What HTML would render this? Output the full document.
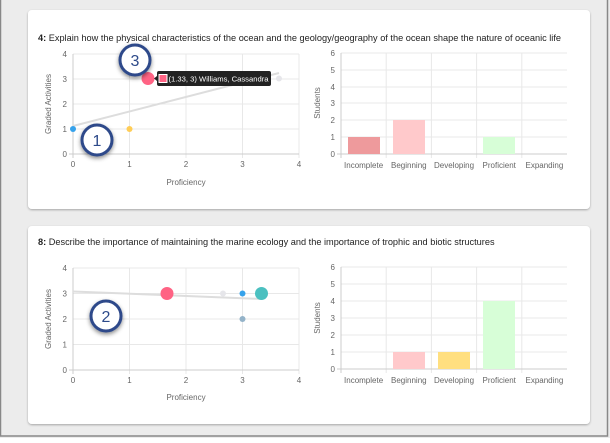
<!DOCTYPE html>
<html><head><meta charset="utf-8"><style>
body{margin:0;width:610px;height:438px;overflow:hidden;background:#fff;font-family:"Liberation Sans",sans-serif}
</style></head><body>
<svg width="610" height="438" xmlns="http://www.w3.org/2000/svg" font-family="Liberation Sans, sans-serif">
<defs><filter id="sh" x="-50%" y="-50%" width="200%" height="200%"><feDropShadow dx="0" dy="2" stdDeviation="2" flood-opacity="0.45"/></filter>
<filter id="cs" x="-5%" y="-5%" width="110%" height="110%"><feDropShadow dx="0" dy="1" stdDeviation="1" flood-opacity="0.3"/></filter></defs>
<rect x="0" y="0" width="610" height="438" fill="#ececec"/>
<rect x="0.5" y="-1" width="607" height="437" fill="none" stroke="#888" stroke-width="1.5"/>
<rect x="28" y="10" width="562" height="199" rx="4" fill="#fff" filter="url(#cs)"/>
<rect x="28" y="226" width="562" height="198" rx="4" fill="#fff" filter="url(#cs)"/>
<text x="38" y="41" font-size="9.2" fill="#222"><tspan font-weight="bold">4:</tspan> Explain how the physical characteristics of the ocean and the geology/geography of the ocean shape the nature of oceanic life</text>
<text x="38" y="245" font-size="9.2" fill="#222"><tspan font-weight="bold">8:</tspan> Describe the importance of maintaining the marine ecology and the importance of trophic and biotic structures</text>

<!-- Scatter 1 -->
<g stroke="#e8e8e8" stroke-width="1">
<line x1="73" y1="54" x2="299" y2="54"/><line x1="73" y1="79" x2="299" y2="79"/><line x1="73" y1="104" x2="299" y2="104"/><line x1="73" y1="129" x2="299" y2="129"/>
<line x1="129.5" y1="54" x2="129.5" y2="158"/><line x1="186" y1="54" x2="186" y2="158"/><line x1="242.5" y1="54" x2="242.5" y2="158"/><line x1="299" y1="54" x2="299" y2="158"/>
</g>
<g stroke="#ccc"><line x1="73" y1="54" x2="73" y2="158"/><line x1="69" y1="154" x2="299" y2="154"/></g>
<g font-size="8" fill="#666" text-anchor="end"><text x="67" y="57">4</text><text x="67" y="82">3</text><text x="67" y="107">2</text><text x="67" y="132">1</text><text x="67" y="157">0</text></g>
<g font-size="8" fill="#666" text-anchor="middle"><text x="73" y="167">0</text><text x="129.5" y="167">1</text><text x="186" y="167">2</text><text x="242.5" y="167">3</text><text x="299" y="167">4</text></g>
<text x="186" y="185" font-size="8" fill="#666" text-anchor="middle">Proficiency</text>
<text transform="translate(51,104) rotate(-90)" font-size="8" fill="#666" text-anchor="middle">Graded Activities</text>
<line x1="73" y1="126" x2="279" y2="73" stroke="#ddd" stroke-width="2"/>
<circle cx="73" cy="129" r="3" fill="#36a2eb"/><circle cx="129.5" cy="129" r="3" fill="#ffcd56"/>
<circle cx="279" cy="78.5" r="3" fill="#e6e6ea"/>
<circle cx="148" cy="78.5" r="6.5" fill="#ff6384"/>
<path d="M154 78.5 L157 76 L157 73 Q157 71 159 71 L269 71 Q271 71 271 73 L271 84 Q271 86 269 86 L159 86 Q157 86 157 84 L157 81 Z" fill="#222"/>
<rect x="159" y="74.5" width="8" height="8" fill="#ff6384" stroke="#fff" stroke-width="1"/>
<text x="168.5" y="81.5" font-size="7.6" fill="#fff" textLength="100" lengthAdjust="spacingAndGlyphs">(1.33, 3) Williams, Cassandra</text>
<g filter="url(#sh)"><circle cx="135" cy="60" r="15" fill="#fff" stroke="#2d4a8a" stroke-width="3"/><circle cx="97" cy="140" r="15" fill="#fff" stroke="#2d4a8a" stroke-width="3"/></g>
<text x="135" y="66" font-size="16" fill="#2d4a8a" text-anchor="middle">3</text>
<text x="97" y="146" font-size="16" fill="#2d4a8a" text-anchor="middle">1</text>

<!-- Bar 1 -->
<g stroke="#e8e8e8"><line x1="341" y1="53" x2="567" y2="53"/><line x1="341" y1="70" x2="567" y2="70"/><line x1="341" y1="87" x2="567" y2="87"/><line x1="341" y1="103" x2="567" y2="103"/><line x1="341" y1="120" x2="567" y2="120"/><line x1="341" y1="137" x2="567" y2="137"/>
<line x1="386.2" y1="53" x2="386.2" y2="158"/><line x1="431.4" y1="53" x2="431.4" y2="158"/><line x1="476.6" y1="53" x2="476.6" y2="158"/><line x1="521.8" y1="53" x2="521.8" y2="158"/></g>
<g stroke="#ccc"><line x1="341" y1="53" x2="341" y2="158"/><line x1="337" y1="154" x2="567" y2="154"/></g>
<g font-size="8" fill="#666" text-anchor="end"><text x="335" y="56">6</text><text x="335" y="73">5</text><text x="335" y="90">4</text><text x="335" y="106">3</text><text x="335" y="123">2</text><text x="335" y="140">1</text><text x="335" y="157">0</text></g>
<text transform="translate(320,103) rotate(-90)" font-size="8" fill="#666" text-anchor="middle">Students</text>
<rect x="348" y="137" width="32" height="17" fill="#ee9a9c"/>
<rect x="393" y="120" width="32" height="34" fill="#ffc9cb"/>
<rect x="483" y="137" width="32" height="17" fill="#d7fed7"/>
<g font-size="8" fill="#666" text-anchor="middle"><text x="363.6" y="168">Incomplete</text><text x="408.8" y="168">Beginning</text><text x="454" y="168">Developing</text><text x="499.2" y="168">Proficient</text><text x="544.4" y="168">Expanding</text></g>

<!-- Scatter 2 -->
<g stroke="#e8e8e8"><line x1="73" y1="268" x2="299" y2="268"/><line x1="73" y1="293.5" x2="299" y2="293.5"/><line x1="73" y1="319" x2="299" y2="319"/><line x1="73" y1="344.5" x2="299" y2="344.5"/>
<line x1="129.5" y1="268" x2="129.5" y2="374"/><line x1="186" y1="268" x2="186" y2="374"/><line x1="242.5" y1="268" x2="242.5" y2="374"/><line x1="299" y1="268" x2="299" y2="374"/></g>
<g stroke="#ccc"><line x1="73" y1="268" x2="73" y2="374"/><line x1="69" y1="370" x2="299" y2="370"/></g>
<g font-size="8" fill="#666" text-anchor="end"><text x="67" y="271">4</text><text x="67" y="296.5">3</text><text x="67" y="322">2</text><text x="67" y="347.5">1</text><text x="67" y="373">0</text></g>
<g font-size="8" fill="#666" text-anchor="middle"><text x="73" y="383">0</text><text x="129.5" y="383">1</text><text x="186" y="383">2</text><text x="242.5" y="383">3</text><text x="299" y="383">4</text></g>
<text x="186" y="400" font-size="8" fill="#666" text-anchor="middle">Proficiency</text>
<text transform="translate(51,319) rotate(-90)" font-size="8" fill="#666" text-anchor="middle">Graded Activities</text>
<line x1="73" y1="291.5" x2="262" y2="299" stroke="#ddd" stroke-width="2"/>
<circle cx="167" cy="293.5" r="6.5" fill="#ff6384"/>
<circle cx="223" cy="293.5" r="3" fill="#e6e6ea"/>
<circle cx="242.5" cy="293.5" r="3" fill="#36a2eb"/>
<circle cx="261.5" cy="293.5" r="6.5" fill="#4bc0c0"/>
<circle cx="242.5" cy="319" r="3" fill="#94b3c9"/>
<g filter="url(#sh)"><circle cx="106" cy="316" r="15" fill="#fff" stroke="#2d4a8a" stroke-width="3"/></g>
<text x="106" y="322" font-size="16" fill="#2d4a8a" text-anchor="middle">2</text>

<!-- Bar 2 -->
<g stroke="#e8e8e8"><line x1="341" y1="267" x2="567" y2="267"/><line x1="341" y1="284" x2="567" y2="284"/><line x1="341" y1="301" x2="567" y2="301"/><line x1="341" y1="318" x2="567" y2="318"/><line x1="341" y1="335" x2="567" y2="335"/><line x1="341" y1="352" x2="567" y2="352"/>
<line x1="386.2" y1="267" x2="386.2" y2="373"/><line x1="431.4" y1="267" x2="431.4" y2="373"/><line x1="476.6" y1="267" x2="476.6" y2="373"/><line x1="521.8" y1="267" x2="521.8" y2="373"/></g>
<g stroke="#ccc"><line x1="341" y1="267" x2="341" y2="373"/><line x1="337" y1="369" x2="567" y2="369"/></g>
<g font-size="8" fill="#666" text-anchor="end"><text x="335" y="270">6</text><text x="335" y="287">5</text><text x="335" y="304">4</text><text x="335" y="321">3</text><text x="335" y="338">2</text><text x="335" y="355">1</text><text x="335" y="372">0</text></g>
<text transform="translate(320,318) rotate(-90)" font-size="8" fill="#666" text-anchor="middle">Students</text>
<rect x="393" y="352" width="32" height="17" fill="#ffc9cb"/>
<rect x="438" y="352" width="32" height="17" fill="#ffdf80"/>
<rect x="483" y="301" width="32" height="68" fill="#d7fed7"/>
<g font-size="8" fill="#666" text-anchor="middle"><text x="363.6" y="383">Incomplete</text><text x="408.8" y="383">Beginning</text><text x="454" y="383">Developing</text><text x="499.2" y="383">Proficient</text><text x="544.4" y="383">Expanding</text></g>
</svg>
</body></html>
